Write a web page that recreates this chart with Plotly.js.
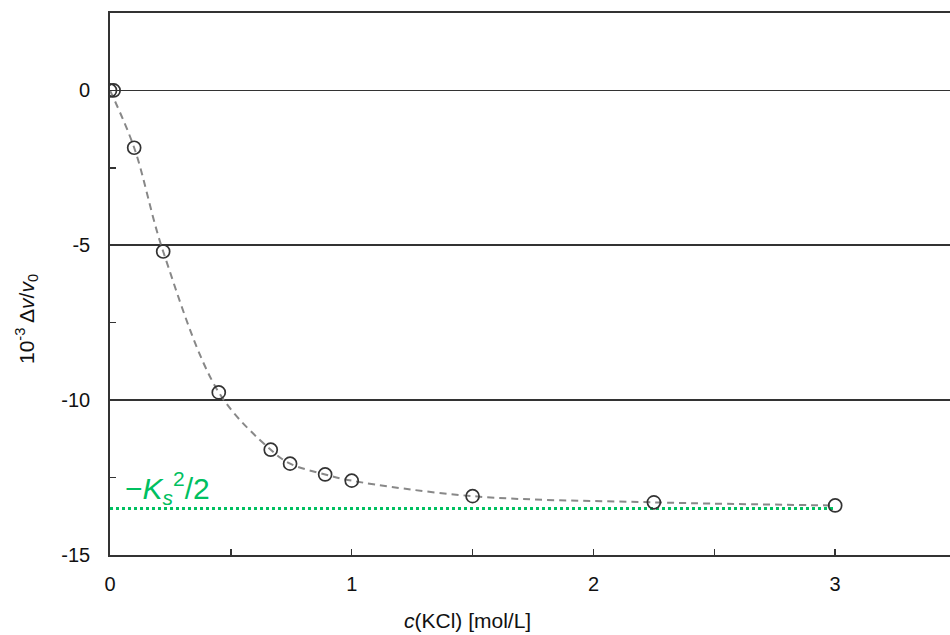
<!DOCTYPE html>
<html><head><meta charset="utf-8">
<script src="https://cdn.plot.ly/plotly-3.0.1.min.js"></script>
<style>html,body{margin:0;padding:0;background:#fff}</style>
</head><body>
<div id="chart" style="width:950px;height:635px"></div>
<script>
// Data
const cKCl = [0, 0.015, 0.1, 0.22, 0.45, 0.665, 0.745, 0.89, 1.0, 1.5, 2.25, 3.0];
const dv   = [0, 0, -1.85, -5.2, -9.75, -11.6, -12.05, -12.4, -12.6, -13.1, -13.3, -13.4];
const fitX = [0, 0.1, 0.22, 0.45, 0.665, 0.745, 0.89, 1.0, 1.5, 2.25, 3.0];
const fitY = [0, -1.85, -5.2, -9.75, -11.6, -12.05, -12.4, -12.6, -13.1, -13.3, -13.4];
const limX = [0, 3];
const limY = [-13.5, -13.5];
const xTicks = [0, 1, 2, 3];
const yTicks = [0, -5, -10, -15];
const yTickText = ['0', '-5', '-10', '-15'];

const axisCol = '#333333';
const green = '#00c060';
const fam = 'Liberation Sans, Arial, sans-serif';
const traces = [
  {x: limX, y: limY, mode: 'lines', line: {color: green, width: 3, dash: 'dot'}, hoverinfo: 'skip'},
  {x: fitX, y: fitY, mode: 'lines', line: {color: '#888888', width: 2, dash: '7px,5px', shape: 'spline', smoothing: 1}},
  {x: cKCl, y: dv, mode: 'markers', marker: {symbol: 'circle-open', size: 13, color: '#333333', line: {width: 1.7}}}
];
const pw = 950 - 110, ph = 635 - 13 - 80;
const layout = {
  width: 950, height: 635,
  margin: {l: 110, r: 0, t: 13, b: 80},
  showlegend: false,
  paper_bgcolor: '#fff', plot_bgcolor: '#fff',
  font: {family: fam, size: 20, color: '#111'},
  xaxis: {
    range: [0, 3.475], tickvals: xTicks, ticktext: xTicks.map(String),
    ticks: 'inside', ticklen: 6, tickcolor: axisCol, tickwidth: 1.5,
    minor: {ticks: 'inside', dtick: 0.5, tick0: 0, ticklen: 6, tickcolor: axisCol, tickwidth: 1.5, showgrid: false},
    showline: true, linecolor: axisCol, linewidth: 1.8, mirror: true,
    showgrid: false, zeroline: false, ticklabelstandoff: 10
  },
  yaxis: {
    range: [-15, 2.5], tickvals: yTicks, ticktext: yTickText,
    ticks: 'inside', ticklen: 6, tickcolor: axisCol, tickwidth: 1.5,
    minor: {ticks: 'inside', dtick: 2.5, tick0: 0, ticklen: 6, tickcolor: axisCol, tickwidth: 1.5, showgrid: false},
    showline: true, linecolor: axisCol, linewidth: 1.8,
    showgrid: true, gridcolor: axisCol, gridwidth: 1.8, zeroline: false,
    ticklabelstandoff: 14
  },
  annotations: [
    {x: 0.055, y: -12.85, xref: 'x', yref: 'y', xanchor: 'left', yanchor: 'middle',
     text: '−<i>K<sub>s</sub></i><sup>2</sup>/2', showarrow: false,
     font: {family: fam, size: 30, color: green}},
    {x: (467 - 110) / pw, y: (635 - 80 - 620) / ph, xref: 'paper', yref: 'paper',
     xanchor: 'center', yanchor: 'middle', text: '<i>c</i>(KCl) [mol/L]', showarrow: false,
     font: {family: fam, size: 21, color: '#111'}},
    {x: (26 - 110) / pw, y: (635 - 80 - 319) / ph, xref: 'paper', yref: 'paper', textangle: -90,
     xanchor: 'center', yanchor: 'middle',
     text: '10<sup>-3</sup> Δ<i>v</i>/<i>v</i><sub>0</sub>', showarrow: false,
     font: {family: fam, size: 21, color: '#111'}}
  ]
};
Plotly.newPlot('chart', traces, layout, {displayModeBar: false, staticPlot: true});
</script>
</body></html>
